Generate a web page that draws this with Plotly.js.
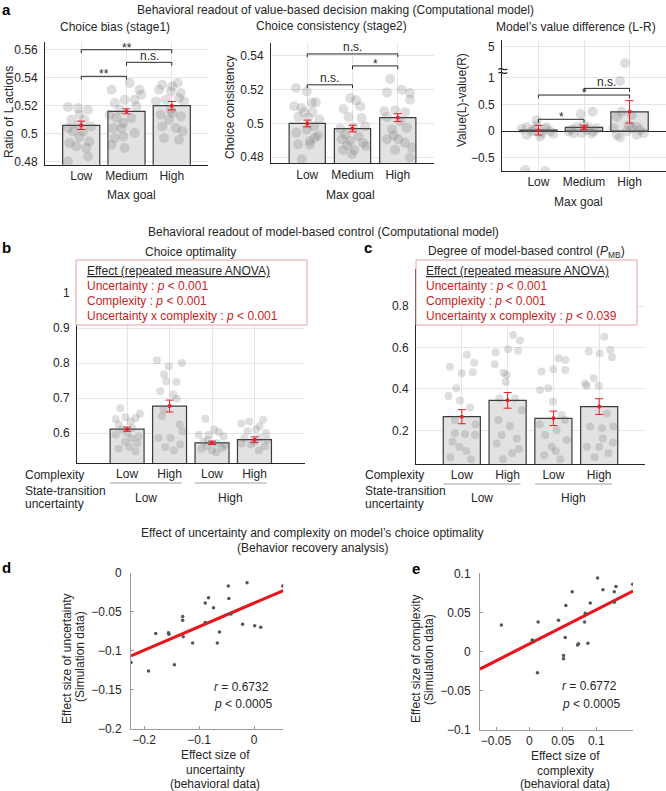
<!DOCTYPE html>
<html><head><meta charset="utf-8">
<script src="https://cdn.plot.ly/plotly-3.0.1.min.js"></script>
<style>html,body{margin:0;padding:0;background:#fff}#chart{width:666px;height:791px}</style>
</head><body><div id="chart"></div>
<script>
// ================= DATA =================
const maxGoalCats = ['Low', 'Medium', 'High'];
const complexityCats = ['Low', 'High', 'Low', 'High'];
const uncertaintyCats = ['Low', 'High'];
const uncertaintyPairs = [[1, 2], [3, 4]];

// (a) Choice bias (stage1)
const biasMean = [0.506, 0.516, 0.520];
const biasSem = [0.003, 0.0018, 0.003];
const biasPtsLow = [0.5183,0.519,0.5171,0.5136,0.510,0.510,0.5064,0.504,0.5052,0.5017,0.5017,0.4976,0.4945,0.4933,0.4898,0.4838,0.4802,0.4910];
const biasJitLow = [-0.07,-0.29,0.15,-0.04,-0.22,0.07,-0.07,-0.29,0.22,-0.18,0.04,-0.04,0.18,-0.26,0.11,0.15,-0.29,-0.11];
const biasPtsMed = [0.5314,0.5362,0.5314,0.5243,0.5243,0.5219,0.5171,0.5195,0.5136,0.5112,0.5112,0.5076,0.504,0.504,0.4969,0.4981,0.5005,0.4921,0.4898,0.5279];
const biasJitMed = [-0.33,0.07,0.29,-0.04,0.18,-0.26,-0.15,0.22,-0.37,-0.22,0.11,-0.07,-0.29,-0.11,-0.26,-0.07,0.18,-0.33,-0.04,0.33];
const biasPtsHigh = [0.535,0.5338,0.5362,0.529,0.5314,0.5302,0.5243,0.5255,0.5231,0.5136,0.5148,0.5124,0.5052,0.51,0.504,0.5017,0.4969,0.4957,0.5231,0.5171];
const biasJitHigh = [-0.21,0.01,0.13,0.2,-0.28,-0.02,-0.13,0.16,0.27,-0.24,0.01,0.2,-0.21,-0.06,0.09,0.24,-0.17,0.16,-0.35,-0.02];
const biasSigPairs = [[1, 3], [2, 3], [1, 2]];
const biasSigLevels = [0.560, 0.551, 0.541];
const biasSigLabels = ['**', 'n.s.', '**'];

// (a) Choice consistency (stage2)
const consMean = [0.500, 0.497, 0.5035];
const consSem = [0.002, 0.002, 0.0023];
const consPtsLow = [0.521,0.519,0.5102,0.5092,0.5122,0.5125,0.5067,0.5067,0.5039,0.5033,0.5024,0.4984,0.4965,0.4929,0.4945,0.4916,0.4896,0.4876,0.4876,0.4788];
const consJitLow = [-0.25,-0.01,-0.29,-0.13,0.1,0.19,-0.07,0.12,-0.2,0.02,0.27,0.15,-0.01,0.24,-0.24,0.17,0.06,-0.2,0.06,-0.12];
const consPtsMed = [0.5151,0.5137,0.5086,0.5102,0.5039,0.5033,0.4969,0.4975,0.4984,0.4935,0.4925,0.4906,0.4896,0.4886,0.4871,0.4867,0.4843,0.4843,0.4818];
const consJitMed = [-0.05,0.08,-0.2,0.17,-0.09,0.2,-0.27,0.02,0.28,-0.16,0.13,-0.24,-0.05,0.23,-0.12,0.3,0.04,-0.21,-0.01];
const consPtsHigh = [0.5263,0.5184,0.52,0.518,0.5073,0.5078,0.5067,0.5141,0.5039,0.5014,0.4975,0.4929,0.4906,0.4906,0.4886,0.4857,0.4843,0.4798,0.4965];
const consJitHigh = [-0.17,-0.24,0.09,0.27,-0.3,-0.06,0.16,0.27,-0.24,0.05,0.2,-0.09,-0.24,0.01,0.16,0.31,-0.06,0.27,-0.13];
const consSigPairs = [[1, 3], [2, 3], [1, 2]];
const consSigLevels = [0.5412, 0.5341, 0.5229];
const consSigLabels = ['n.s.', '*', 'n.s.'];

// (a) Model's value difference (L-R)
const vdMean = [0.015, 0.07, 0.36];
const vdSem = [0.09, 0.04, 0.21];
const vdPtsLow = [0.069,0.094,0.069,-0.01,-0.04,-0.07,-0.01,0.02,0.04,0.2,-0.73,-0.75,0.04,-0.05,-0.1];
const vdJitLow = [-0.26,-0.04,0.18,-0.15,0.07,-0.26,0.26,-0.11,0.15,-0.04,-0.29,0.15,-0.37,0.33,0.04];
const vdPtsMed = [0.32,0.36,0.03,0.07,0.02,-0.01,0.05,-0.01,-0.04,0.07,-0.04,0.11,-0.05];
const vdJitMed = [-0.07,0.19,-0.27,-0.16,0.06,0.21,0.28,-0.34,-0.05,0.1,-0.23,-0.01,0.17];
const vdPtsHigh = [2.5,0.94,0.36,0.3,0.27,0.08,0.02,-0.01,-0.075,-0.12,0.05,-0.04,0.05,-0.07,0.11];
const vdJitHigh = [-0.1,-0.21,-0.17,0.05,-0.28,0.16,0.23,-0.06,-0.28,-0.21,0.05,0.31,-0.35,0.16,-0.02];
const vdTickVals = [-0.5, 0, 0.5, 1, 5];
const vdTickText = ['\u22120.5', '0', '0.5', '1', '5'];
const vdSigPairs = [[1, 3], [2, 3], [1, 2]];
const vdSigLevels = [0.675, 0.80, 0.22];
const vdSigLabels = ['*', 'n.s.', '*'];

// (b) Choice optimality
const optMean = [0.611, 0.677, 0.572, 0.581];
const optSem = [0.006, 0.017, 0.005, 0.008];
const optPts1 = [0.671,0.64,0.646,0.643,0.655,0.633,0.624,0.6,0.59,0.614,0.61,0.595,0.571,0.56,0.555,0.548,0.575,0.585];
const optJit1 = [-0.16,-0.27,-0.04,0.2,0.3,0.08,-0.2,0,0.27,0.12,-0.12,-0.27,0.24,0.05,-0.2,0.2,-0.05,0.1];
const optPts2 = [0.808,0.79,0.8,0.767,0.748,0.746,0.719,0.71,0.698,0.667,0.648,0.624,0.586,0.586,0.567,0.55,0.56,0.605];
const optJit2 = [-0.3,-0.02,0.29,-0.13,-0.08,0.16,-0.22,0.09,0.17,-0.14,-0.18,0.24,-0.26,0.02,0.25,0.1,-0.1,0.3];
const optPts3 = [0.641,0.61,0.595,0.595,0.603,0.59,0.576,0.571,0.562,0.557,0.55,0.555,0.565,0.545,0.58];
const optJit3 = [-0.16,0.05,-0.31,-0.08,0.16,0.27,-0.2,0.12,-0.12,0.24,0,-0.25,0.3,0.1,-0.1];
const optPts4 = [0.627,0.633,0.619,0.638,0.605,0.61,0.6,0.586,0.586,0.567,0.562,0.575,0.57,0.58,0.55];
const optJit4 = [-0.31,-0.12,0.12,0.2,-0.16,0.04,0.27,-0.24,0.12,-0.08,0.24,0,-0.3,0.3,0.1];
const optStats = ['<u>Effect (repeated measure ANOVA)</u>', 'Uncertainty : <i>p</i> &lt; 0.001', 'Complexity : <i>p</i> &lt; 0.001', 'Uncertainty x complexity : <i>p</i> &lt; 0.001'];

// (c) Degree of model-based control
const mbMean = [0.266, 0.345, 0.258, 0.315];
const mbSem = [0.034, 0.038, 0.035, 0.038];
const mbPts1 = [0.508,0.565,0.476,0.527,0.481,0.403,0.366,0.344,0.311,0.186,0.182,0.177,0.145,0.1,0.07,0.06,0.12,0.23,0.25];
const mbJit1 = [-0.26,0.11,0,0.27,0.24,-0.12,-0.29,-0.04,0.18,-0.15,0.07,0.29,-0.2,0.1,-0.25,0.2,-0.05,0.3,-0.15];
const mbPts2 = [0.577,0.592,0.585,0.661,0.634,0.519,0.479,0.468,0.355,0.355,0.434,0.298,0.25,0.221,0.177,0.161,0.137,0.09,0.06,0.11];
const mbJit2 = [-0.26,0.01,0.23,0.12,0.27,-0.28,-0.09,-0.02,0.16,-0.18,-0.04,0.31,-0.2,0.05,-0.13,0.2,-0.24,0.1,-0.1,0.25];
const mbPts3 = [0.484,0.495,0.548,0.54,0.492,0.395,0.403,0.339,0.274,0.177,0.202,0.153,0.121,0.08,0.06,0.1,0.23,0.25];
const mbJit3 = [-0.26,0,0.11,0.26,0.26,-0.29,-0.11,-0.01,0.18,-0.18,0.07,0.29,-0.04,-0.2,0.15,0.05,-0.3,0.25];
const mbPts4 = [0.581,0.573,0.589,0.553,0.653,0.427,0.415,0.452,0.416,0.282,0.218,0.21,0.218,0.161,0.121,0.09,0.07,0.12,0.14];
const mbJit4 = [-0.23,0.01,0.24,0.28,0.11,-0.31,-0.27,-0.12,-0.01,0.17,0.31,0.06,-0.2,0.08,-0.27,0.2,-0.1,0,0.3];
const mbStats = ['<u>Effect (repeated measure ANOVA)</u>', 'Uncertainty : <i>p</i> &lt; 0.001', 'Complexity : <i>p</i> &lt; 0.001', 'Uncertainty x complexity : <i>p</i> &lt; 0.039'];

// (d) Effect size of uncertainty
const uncBehav = [-0.224,-0.192,-0.179,-0.156,-0.155,-0.145,-0.130,-0.130,-0.129,-0.112,-0.089,-0.083,-0.089,-0.074,-0.067,-0.063,-0.047,-0.046,-0.042,-0.021,-0.013,0.001,0.012,0.052];
const uncSim = [-0.115,-0.126,-0.078,-0.077,-0.079,-0.118,-0.056,-0.061,-0.082,-0.090,-0.039,-0.032,-0.064,-0.045,-0.090,-0.076,-0.017,-0.033,-0.053,-0.066,-0.013,-0.068,-0.070,-0.017];
const uncFitCoef = [-0.0389, 0.302];   // intercept, slope
const uncStats = ['<i>r</i> = 0.6732', '<i>p</i> &lt; 0.0005'];

// (e) Effect size of complexity
const cmpBehav = [-0.042,0.004,0.005,0.013,0.012,0.0435,0.0535,0.0545,0.051,0.051,0.064,0.072,0.0735,0.0825,0.0835,0.0875,0.091,0.102,0.110,0.127,0.127,0.1295,0.1545];
const cmpSim = [0.034,0.015,0.014,0.038,-0.027,0.040,0.018,0.059,-0.005,-0.009,0.0765,0.0085,0.010,0.038,0.049,0.0107,0.062,0.094,0.079,0.0765,0.063,0.083,0.086];
const cmpFitCoef = [0.010, 0.435];
const cmpStats = ['<i>r</i> = 0.6772', '<i>p</i> &lt; 0.0005'];

// ================= DRAWING =================
const W = 666, H = 791;
const FONT = 'Liberation Sans, Arial, Helvetica, sans-serif';
const TC = '#262626';
const RED = '#e8202a';
const BOXRED = '#c81d25';
const FS = 12;
const px = p => p / W;
const py = p => 1 - p / H;
const domX = (a, b) => [a / W, b / W];
const domY = (top, bot) => [1 - bot / H, 1 - top / H];

const traces = [], shapes = [], annotations = [];
const layout = {
  width: W, height: H, margin: {l: 0, r: 0, t: 0, b: 0},
  paper_bgcolor: '#fff', plot_bgcolor: 'rgba(0,0,0,0)',
  showlegend: false, font: {family: FONT, size: FS, color: TC},
  shapes, annotations
};

// value-difference axis break transform
const brk = 1.1, brkScale = 0.123;
const vdT = v => v <= brk ? v : brk + (v - brk) * brkScale;

function setAxes(n, xd, xr, yd, yr, xopt, yopt) {
  const sx = n === 1 ? '' : n;
  layout['xaxis' + sx] = Object.assign({
    domain: domX(xd[0], xd[1]), range: xr, anchor: 'y' + sx, showline: true, linecolor: TC, linewidth: 1,
    showgrid: true, gridcolor: '#e6e6e6', zeroline: false, ticks: '', fixedrange: true, tickmode: 'array',
    tickfont: {size: FS, color: TC}
  }, xopt);
  layout['yaxis' + sx] = Object.assign({
    domain: domY(yd[0], yd[1]), range: yr, anchor: 'x' + sx, showline: true, linecolor: TC, linewidth: 1,
    showgrid: true, gridcolor: '#e6e6e6', zeroline: false, ticks: '', fixedrange: true, tickmode: 'array',
    ticklabelstandoff: 4, tickfont: {size: FS, color: TC}
  }, yopt);
}

function barPanel(n, means, sems, groups, msize, bw, T) {
  T = T || (v => v);
  const xa = n === 1 ? 'x' : 'x' + n, ya = n === 1 ? 'y' : 'y' + n;
  const cats = means.map((_, i) => i + 1);
  traces.push({type: 'bar', x: cats, y: means.map(T), width: bw, xaxis: xa, yaxis: ya,
    marker: {color: '#e2e2e2', line: {color: '#3a3a3a', width: 1.2}}, hoverinfo: 'skip'});
  groups.forEach((g, i) => {
    traces.push({type: 'scatter', mode: 'markers', x: g[1].map(j => i + 1 + j), y: g[0].map(T), xaxis: xa, yaxis: ya,
      marker: {size: msize, color: 'rgba(105,105,105,0.22)'}, hoverinfo: 'skip'});
  });
  traces.push({type: 'scatter', mode: 'markers', x: cats, y: means.map(T), xaxis: xa, yaxis: ya,
    marker: {size: 4, color: RED}, error_y: {type: 'data', array: sems, color: RED, thickness: 1, width: 4}, hoverinfo: 'skip'});
}

function brackets(n, pairs, levels, labels, yr, yd) {
  const xa = n === 1 ? 'x' : 'x' + n, ya = n === 1 ? 'y' : 'y' + n;
  const drop = 3.3 * (yr[1] - yr[0]) / (yd[1] - yd[0]);
  pairs.forEach((p, i) => {
    const y = levels[i];
    shapes.push({type: 'path', xref: xa, yref: ya, layer: 'above',
      path: `M ${p[0]},${y - drop} L ${p[0]},${y} L ${p[1]},${y} L ${p[1]},${y - drop}`,
      line: {color: TC, width: 1}});
    annotations.push({xref: xa, yref: ya, x: (p[0] + p[1]) / 2, y: y, text: labels[i], showarrow: false,
      yanchor: 'bottom', yshift: labels[i].includes('*') ? -7 : -2.5, font: {size: FS, color: TC}});
  });
}

function txt(text, x, y, opt) {
  annotations.push(Object.assign({xref: 'paper', yref: 'paper', x: px(x), y: py(y), text: text, showarrow: false,
    xanchor: 'center', yanchor: 'middle', font: {size: FS, color: TC}}, opt || {}));
}

// ---- a1 ----
const a1Y = [0.4778, 0.5658], a1Yd = [41.6, 164.8];
setAxes(1, [45, 208], [0.2, 3.8], a1Yd, a1Y,
  {tickvals: [1, 2, 3], ticktext: maxGoalCats},
  {tickvals: [0.48, 0.5, 0.52, 0.54, 0.56], ticktext: ['0.48', '0.5', '0.52', '0.54', '0.56']});
barPanel(1, biasMean, biasSem, [[biasPtsLow, biasJitLow], [biasPtsMed, biasJitMed], [biasPtsHigh, biasJitHigh]], 10, 0.82);
brackets(1, biasSigPairs, biasSigLevels, biasSigLabels, a1Y, a1Yd);

// ---- a2 ----
const a2Y = [0.4764, 0.5475], a2Yd = [43.3, 163.3];
setAxes(2, [271, 434], [0.2, 3.8], a2Yd, a2Y,
  {tickvals: [1, 2, 3], ticktext: maxGoalCats},
  {tickvals: [0.48, 0.5, 0.52, 0.54], ticktext: ['0.48', '0.5', '0.52', '0.54']});
barPanel(2, consMean, consSem, [[consPtsLow, consJitLow], [consPtsMed, consJitMed], [consPtsHigh, consJitHigh]], 10, 0.8);
brackets(2, consSigPairs, consSigLevels, consSigLabels, a2Y, a2Yd);

// ---- a3 ----
const a3Y = [-0.75, 1.7], a3Yd = [40.4, 171];
setAxes(3, [502, 666], [0.2, 3.8], a3Yd, a3Y,
  {tickvals: [1, 2, 3], ticktext: maxGoalCats},
  {tickvals: vdTickVals.map(vdT), ticktext: vdTickText, zeroline: true, zerolinecolor: TC, zerolinewidth: 1});
barPanel(3, vdMean, vdSem, [[vdPtsLow, vdJitLow], [vdPtsMed, vdJitMed], [vdPtsHigh, vdJitHigh]], 10, 0.82, vdT);
brackets(3, vdSigPairs, vdSigLevels, vdSigLabels, a3Y, a3Yd);

// ---- b ----
setAxes(4, [77, 305], [-0.18, 5.19], [265, 463], [0.5143, 1.08],
  {tickvals: [1, 2, 3, 4], ticktext: complexityCats},
  {tickvals: [0.6, 0.7, 0.8, 0.9, 1], ticktext: ['0.6', '0.7', '0.8', '0.9', '1']});
barPanel(4, optMean, optSem, [[optPts1, optJit1], [optPts2, optJit2], [optPts3, optJit3], [optPts4, optJit4]], 8, 0.8);

// ---- c ----
setAxes(5, [416, 645], [0, 5], [269, 464], [0.0373, 0.98],
  {tickvals: [1, 2, 3, 4], ticktext: complexityCats},
  {tickvals: [0.2, 0.4, 0.6, 0.8], ticktext: ['0.2', '0.4', '0.6', '0.8']});
barPanel(5, mbMean, mbSem, [[mbPts1, mbJit1], [mbPts2, mbJit2], [mbPts3, mbJit3], [mbPts4, mbJit4]], 8, 0.81);

// ---- d ----
const sc = {showgrid: false, linecolor: '#9a9a9a', ticks: 'inside', ticklen: 3, tickcolor: '#9a9a9a'};
const dX = [-0.224, 0.053], eX = [-0.074, 0.155];
setAxes(6, [131, 283.3], dX, [572.7, 728.7], [-0.2, 0],
  Object.assign({tickvals: [-0.2, -0.1, 0], ticktext: ['\u22120.2', '\u22120.1', '0']}, sc),
  Object.assign({tickvals: [-0.2, -0.15, -0.1, -0.05, 0], ticktext: ['\u22120.2', '\u22120.15', '\u22120.1', '\u22120.05', '0'], ticklabelstandoff: 6}, sc));
traces.push({type: 'scatter', mode: 'lines', x: dX, y: dX.map(v => uncFitCoef[0] + uncFitCoef[1] * v), xaxis: 'x6', yaxis: 'y6',
  line: {color: '#e8151b', width: 3}, hoverinfo: 'skip'});
traces.push({type: 'scatter', mode: 'markers', x: uncBehav, y: uncSim, xaxis: 'x6', yaxis: 'y6',
  marker: {size: 3.5, color: '#555'}, hoverinfo: 'skip'});

// ---- e ----
setAxes(7, [480, 633], eX, [573.3, 730], [-0.1, 0.1],
  Object.assign({tickvals: [-0.05, 0, 0.05, 0.1], ticktext: ['\u22120.05', '0', '0.05', '0.1']}, sc),
  Object.assign({tickvals: [-0.1, -0.05, 0, 0.05, 0.1], ticktext: ['\u22120.1', '\u22120.05', '0', '0.05', '0.1'], ticklabelstandoff: 6}, sc));
traces.push({type: 'scatter', mode: 'lines', x: eX, y: eX.map(v => cmpFitCoef[0] + cmpFitCoef[1] * v), xaxis: 'x7', yaxis: 'y7',
  line: {color: '#e8151b', width: 3}, hoverinfo: 'skip'});
traces.push({type: 'scatter', mode: 'markers', x: cmpBehav, y: cmpSim, xaxis: 'x7', yaxis: 'y7',
  marker: {size: 3.5, color: '#555'}, hoverinfo: 'skip'});

// ---- texts ----
const bold = {font: {size: 15, color: '#000', family: 'Liberation Sans, Arial, sans-serif', weight: 'bold'}};
txt('<b>a</b>', 6, 9, bold);
txt('<b>b</b>', 6, 247, bold);
txt('<b>c</b>', 368, 247, bold);
txt('<b>d</b>', 6, 567, bold);
txt('<b>e</b>', 416, 568, bold);

txt('Behavioral readout of value-based decision making (Computational model)', 335, 10);
txt('Choice bias (stage1)', 115, 27);
txt('Choice consistency (stage2)', 331, 26);
txt('Model\u2019s value difference (L-R)', 576, 27);
txt('Ratio of L actions', 9, 112, {textangle: -90});
txt('Choice consistency', 230, 108, {textangle: -90});
txt('Value(L)-value(R)', 462, 100, {textangle: -90});
txt('Max goal', 131, 195);
txt('Max goal', 351, 195);
txt('Max goal', 578, 202);
txt('\u2248', 503, 71, {font: {size: 18, color: TC}});

txt('Behavioral readout of model-based control (Computational model)', 323, 232);
txt('Choice optimality', 190, 252);
txt('Degree of model-based control (<i>P</i><sub>MB</sub>)', 526, 252);

// stats boxes
[[76, 307, 85, optStats], [416, 637, 424, mbStats]].forEach(b => {
  shapes.push({type: 'rect', xref: 'paper', yref: 'paper', x0: px(b[0]), x1: px(b[1]), y0: py(325), y1: py(260),
    fillcolor: '#fff', line: {color: '#e6a2a5', width: 1}, layer: 'above'});
  const ys = [271, 286, 301, 316];
  b[3].forEach((s, i) => txt(s, b[2], ys[i], {xanchor: 'left', font: {size: FS, color: i === 0 ? TC : BOXRED}}));
});

// condition labels under b and c
[[23, 'x4', 483], [363, 'x5', 484]].forEach(c => {
  txt('Complexity', c[0], 475, {xanchor: 'left'});
  txt('State-transition', c[0], 491, {xanchor: 'left'});
  txt('uncertainty', c[0], 504, {xanchor: 'left'});
  uncertaintyPairs.forEach((p, i) => {
    const x0 = p[0] - 0.4, x1 = p[1] + 0.28;
    shapes.push({type: 'line', xref: c[1], yref: 'paper', x0: x0, x1: x1, y0: py(c[2]), y1: py(c[2]),
      line: {color: '#a0a0a0', width: 1}});
    annotations.push({xref: c[1], yref: 'paper', x: (x0 + x1) / 2, y: py(498), text: uncertaintyCats[i], showarrow: false,
      xanchor: 'center', yanchor: 'middle', font: {size: FS, color: TC}});
  });
});

txt('Effect of uncertainty and complexity on model\u2019s choice optimality', 312, 533);
txt('(Behavior recovery analysis)', 312, 548);

txt('Effect size of uncertainty', 67, 659, {textangle: -90});
txt('(Simulation data)', 80, 657, {textangle: -90});
txt('Effect size of', 215, 755);
txt('uncertainty', 215, 770);
txt('(behavioral data)', 215, 784);
txt(uncStats[0], 212, 687, {xanchor: 'left'});
txt(uncStats[1], 212, 704, {xanchor: 'left'});

txt('Effect size of complexity', 416, 659, {textangle: -90});
txt('(Simulation data)', 429, 660, {textangle: -90});
txt('Effect size of', 565, 756);
txt('complexity', 565, 771);
txt('(behavioral data)', 565, 784);
txt(cmpStats[0], 560, 686, {xanchor: 'left'});
txt(cmpStats[1], 560, 704, {xanchor: 'left'});

Plotly.newPlot('chart', traces, layout, {staticPlot: true, displayModeBar: false});
</script></body></html>
